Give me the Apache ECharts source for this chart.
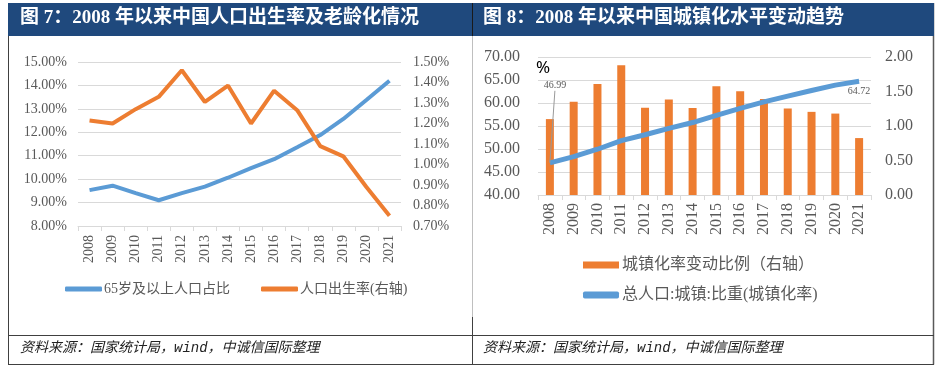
<!DOCTYPE html>
<html><head><meta charset="utf-8">
<script src="https://cdn.jsdelivr.net/npm/echarts@6/dist/echarts.min.js"></script>
<style>html,body{margin:0;padding:0;background:#fff}#c{width:941px;height:370px}</style>
</head><body><div id="c"></div>
<script>
// ---- data ----
const years = ['2008','2009','2010','2011','2012','2013','2014','2015','2016','2017','2018','2019','2020','2021'];
const elderlyShare = [9.53, 9.72, 9.40, 9.10, 9.40, 9.68, 10.06, 10.47, 10.85, 11.36, 11.88, 12.57, 13.38, 14.20];
const birthRate = [1.215, 1.20, 1.27, 1.33, 1.46, 1.305, 1.385, 1.20, 1.36, 1.265, 1.09, 1.04, 0.89, 0.75];
const urbanRate = [46.99, 48.34, 49.95, 51.83, 53.10, 54.49, 55.75, 57.33, 58.84, 60.24, 61.50, 62.71, 63.89, 64.72];
const urbanChange = [1.10, 1.35, 1.61, 1.88, 1.265, 1.385, 1.26, 1.575, 1.505, 1.39, 1.255, 1.205, 1.18, 0.825];
const leftAxisL = {min: 8, max: 15, interval: 1};
const leftAxisR = {min: 0.7, max: 1.5, interval: 0.1};
const rightAxisL = {min: 40, max: 70, interval: 5};
const rightAxisR = {min: 0, max: 2, interval: 0.5};
const titles = ['图 7：2008 年以来中国人口出生率及老龄化情况', '图 8：2008 年以来中国城镇化水平变动趋势'];
const sourceText = '资料来源：国家统计局，wind，中诚信国际整理';
const names = ['65岁及以上人口占比', '人口出生率(右轴)', '城镇化率变动比例（右轴）', '总人口:城镇:比重(城镇化率)'];

const SERIF = "'Liberation Serif','Times New Roman','Noto Sans CJK SC',serif";
const GRAY = '#595959';
const BLUE = '#5B9BD5', ORANGE = '#ED7D31';

const chart = echarts.init(document.getElementById('c'), null, {renderer: 'canvas'});

function xAx(gi, fs, margin) {
  return {
    type: 'category', gridIndex: gi, data: years, boundaryGap: true,
    axisLine: {show: true, lineStyle: {color: '#d9d9d9', width: 1}},
    axisTick: {show: true, length: 5, lineStyle: {color: '#d9d9d9'}},
    axisLabel: {rotate: 90, color: GRAY, fontFamily: SERIF, fontSize: fs, margin: margin, interval: 0}
  };
}
function yAx(gi, cfg, pos, fs, margin, fmt, split) {
  return {
    type: 'value', gridIndex: gi, position: pos, min: cfg.min, max: cfg.max, interval: cfg.interval,
    axisLine: {show: false}, axisTick: {show: false},
    splitLine: {show: split, lineStyle: {color: '#d9d9d9', width: 1}},
    axisLabel: {color: GRAY, fontFamily: SERIF, fontSize: fs, margin: margin, formatter: fmt}
  };
}
const pct = v => v.toFixed(2) + '%';
const dec = v => v.toFixed(2);

const last = urbanRate.length - 1;
const urbanData = urbanRate.map((v, i) => {
  if (i === 0) return {value: v, label: {show: true, position: 'top'}};
  if (i === last) return {value: v, label: {show: true, position: 'bottom', offset: [5, 0]}, labelLine: {show: false}};
  return v;
});

const option = {
  animation: false,
  graphic: [
    {type: 'rect', shape: {x: 8, y: 3, width: 926, height: 33}, style: {fill: '#1f497d'}, z: 1},
    {type: 'line', shape: {x1: 472.5, y1: 3, x2: 472.5, y2: 36}, style: {stroke: '#1a1a1a', lineWidth: 1}, z: 2},
    {type: 'line', shape: {x1: 472.5, y1: 36, x2: 472.5, y2: 317}, style: {stroke: '#bfbfbf', lineWidth: 1}},
    {type: 'line', shape: {x1: 472.5, y1: 317, x2: 472.5, y2: 364}, style: {stroke: '#404040', lineWidth: 1}},
    {type: 'line', shape: {x1: 8.5, y1: 3, x2: 8.5, y2: 364.5}, style: {stroke: '#404040', lineWidth: 1}},
    {type: 'line', shape: {x1: 933.5, y1: 3, x2: 933.5, y2: 364.5}, style: {stroke: '#595959', lineWidth: 1.5}},
    {type: 'line', shape: {x1: 8, y1: 335.5, x2: 934, y2: 335.5}, style: {stroke: '#404040', lineWidth: 1}},
    {type: 'line', shape: {x1: 8, y1: 364.5, x2: 934, y2: 364.5}, style: {stroke: '#404040', lineWidth: 1}},
    {type: 'text', left: 20, top: 9, style: {text: titles[0], fill: '#fff', font: "bold 19px 'Liberation Serif','Noto Sans CJK SC',serif"}, z: 3},
    {type: 'text', left: 483, top: 9, style: {text: titles[1], fill: '#fff', font: "bold 19px 'Liberation Serif','Noto Sans CJK SC',serif"}, z: 3},
    {type: 'text', left: 20, top: 341, style: {text: sourceText, fill: '#222', font: "italic 14px 'Liberation Mono','Noto Sans CJK SC',monospace"}},
    {type: 'text', left: 483, top: 341, style: {text: sourceText, fill: '#222', font: "italic 14px 'Liberation Mono','Noto Sans CJK SC',monospace"}},
    {type: 'text', left: 536, top: 60, style: {text: '%', fill: '#000', font: "17px 'Noto Sans','DejaVu Sans',sans-serif"}}
  ],
  grid: [
    {left: 78, right: 540, top: 62, bottom: 144},
    {left: 538, right: 70, top: 57, bottom: 175}
  ],
  xAxis: [xAx(0, 14, 9), xAx(1, 16, 8)],
  yAxis: [
    yAx(0, leftAxisL, 'left', 14, 11, pct, true),
    yAx(0, leftAxisR, 'right', 14, 12, pct, false),
    yAx(1, rightAxisL, 'left', 16, 18, dec, true),
    yAx(1, rightAxisR, 'right', 16, 14, dec, false)
  ],
  legend: [
    {
      left: 65, top: 282, padding: 0, orient: 'horizontal', itemWidth: 37, itemHeight: 5, itemGap: 31,
      icon: 'roundRect',
      textStyle: {color: GRAY, fontSize: 14, fontFamily: SERIF, padding: [0, 0, 0, -3]},
      data: [names[0], names[1]]
    },
    {
      left: 583, top: 257, padding: 0, orient: 'vertical', itemWidth: 36, itemHeight: 7, itemGap: 14,
      textStyle: {color: GRAY, fontSize: 16, fontFamily: SERIF, padding: [0, 0, 0, -2]},
      data: [{name: names[2], icon: 'rect'}, {name: names[3], icon: 'roundRect'}]
    }
  ],
  series: [
    {name: names[0], type: 'line', xAxisIndex: 0, yAxisIndex: 0, data: elderlyShare,
      showSymbol: false, symbol: 'none', lineStyle: {width: 4, color: BLUE}, itemStyle: {color: BLUE}},
    {name: names[1], type: 'line', xAxisIndex: 0, yAxisIndex: 1, data: birthRate,
      showSymbol: false, symbol: 'none', lineStyle: {width: 4, color: ORANGE}, itemStyle: {color: ORANGE}},
    {name: names[2], type: 'bar', xAxisIndex: 1, yAxisIndex: 3, data: urbanChange, barWidth: 8,
      itemStyle: {color: ORANGE}},
    {name: names[3], type: 'line', xAxisIndex: 1, yAxisIndex: 2, data: urbanData,
      symbol: 'circle', symbolSize: 0.1, showSymbol: true,
      lineStyle: {width: 5, color: BLUE}, itemStyle: {color: BLUE},
      label: {show: false, color: '#595959', fontSize: 10, fontFamily: SERIF, formatter: p => p.value.toFixed(2)},
      labelLine: {show: true, smooth: false, length2: 0, lineStyle: {color: '#999999', width: 1}},
      labelLayout: function (p) { if (p.dataIndex === 0) return {dx: 5, dy: -67}; return {}; },
      z: 3}
  ]
};
chart.setOption(option);
</script>
</body></html>
